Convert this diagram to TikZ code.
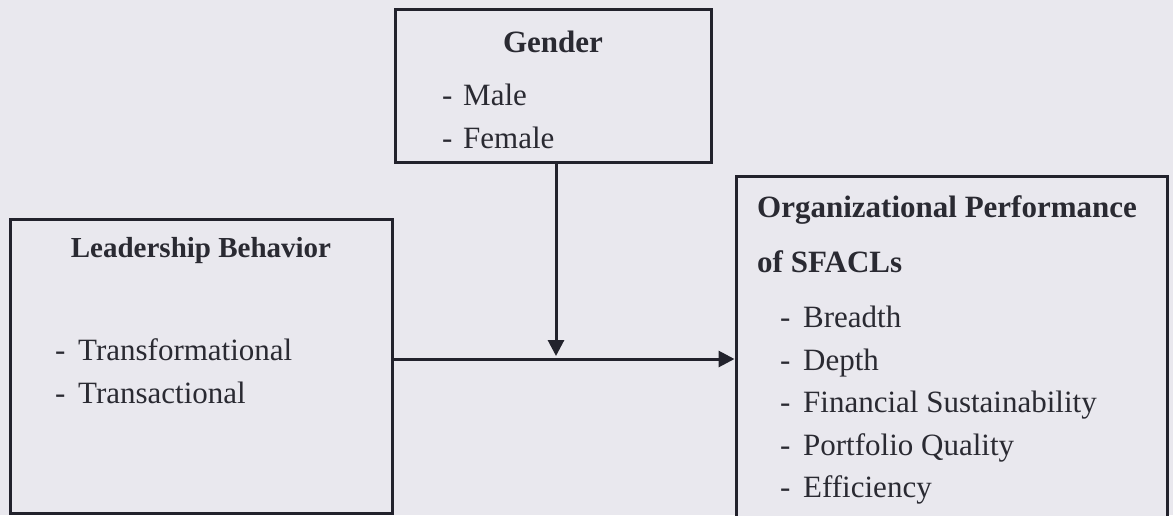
\documentclass[tikz,border=0pt]{standalone}
\usepackage{fontspec}
\setmainfont{Liberation Serif}
\usetikzlibrary{arrows.meta}
\definecolor{paper}{RGB}{233,232,238}
\definecolor{ink}{RGB}{34,34,44}
\definecolor{txt}{RGB}{42,42,50}
\begin{document}
\begin{tikzpicture}[x=1pt,y=-1pt,
  box/.style={draw=ink,line width=3pt,fill=paper,inner sep=0pt,rectangle},
  lbl/.style={inner sep=0pt,anchor=base west,text=txt,font=\fontsize{31}{31}\selectfont},
  ttl/.style={inner sep=0pt,text=txt,font=\fontsize{31}{31}\selectfont\bfseries},
  arr/.style={draw=ink,line width=3pt,-{Triangle[length=16pt,width=16pt]}}]
\useasboundingbox (0,0) rectangle (1173,515);
\fill[paper] (0,0) rectangle (1173,515);
\begin{scope}
\clip (0,0) rectangle (1173,515);
% boxes
\node[box,minimum width=316pt,minimum height=153pt] (gender) at (553,85.5) {};
\node[box,minimum width=382pt,minimum height=294pt] (lb) at (201,366) {};
\node[box,minimum width=431pt,minimum height=354pt] (rb) at (951.5,353) {};
\end{scope}
% gender texts
\node[ttl,anchor=base] (gt) at (553,52) {Gender};
\node[lbl] (g1) at (442,105) {\makebox[21pt][l]{-}Male};
\node[lbl] (g2) at (442,148) {\makebox[21pt][l]{-}Female};
% leadership texts
\node[ttl,anchor=base,font=\fontsize{29}{29}\selectfont\bfseries] (lt) at (201,257) {Leadership Behavior};
\node[lbl] (l1) at (55,360) {\makebox[23pt][l]{-}Transformational};
\node[lbl] (l2) at (55,403) {\makebox[23pt][l]{-}Transactional};
% organizational performance texts
\node[ttl,anchor=base west] (rt1) at (757,217) {Organizational Performance};
\node[ttl,anchor=base west] (rt2) at (757,272) {of SFACLs};
\node[lbl] (r1) at (780,327) {\makebox[23pt][l]{-}Breadth};
\node[lbl] (r2) at (780,370) {\makebox[23pt][l]{-}Depth};
\node[lbl] (r3) at (780,412) {\makebox[23pt][l]{-}Financial Sustainability};
\node[lbl] (r4) at (780,455) {\makebox[23pt][l]{-}Portfolio Quality};
\node[lbl] (r5) at (780,497) {\makebox[23pt][l]{-}Efficiency};
% connectors
\coordinate (j) at (556,359);
\coordinate (jt) at (556,356);
\draw[arr] (lb.east |- j) -- (rb.west |- j);
\draw[arr] (gender.south -| j) -- (jt);
\end{tikzpicture}
\end{document}
